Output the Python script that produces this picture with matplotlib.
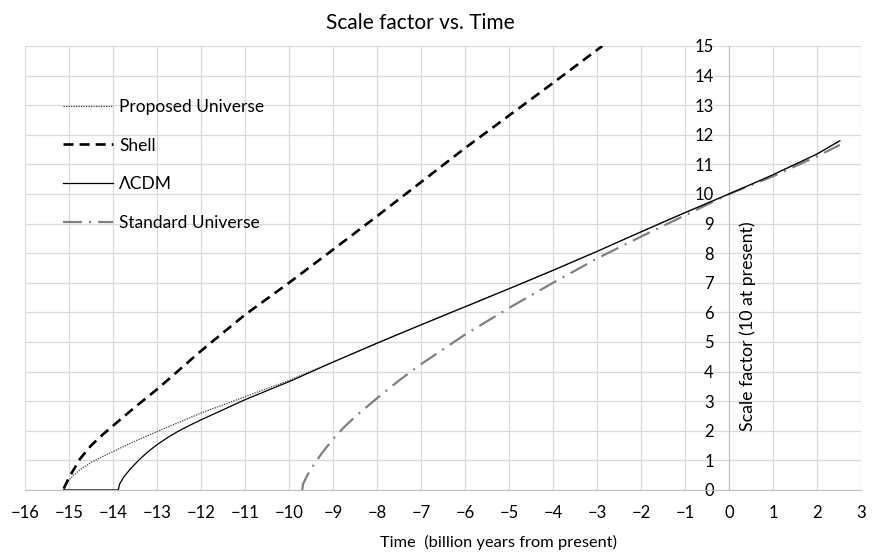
import matplotlib
matplotlib.use("Agg")
import matplotlib.pyplot as plt

plt.rcParams["font.family"] = ["Lato", "DejaVu Sans"]

# time in billion years from present, scale factor (10 at present)
t_proposed = [-15.12, -15.08, -14.9, -14.75, -14.5, -14.25, -14.0, -13.5, -13.0, -12.0,
              -11.0, -10.0, -9.0, -8.0, -7.0, -6.0, -5.0, -4.0, -3.0, -2.0, -1.0,
              0.0, 1.0, 2.0, 2.52]
a_proposed = [0.0, 0.2, 0.5, 0.68, 0.93, 1.12, 1.3, 1.65, 1.97, 2.6,
              3.15, 3.7, 4.33, 4.96, 5.58, 6.19, 6.8, 7.42, 8.06, 8.72, 9.37,
              10.0, 10.65, 11.35, 11.8]

t_shell = [-15.12, -15.0, -14.75, -14.5, -14.25, -14.0, -13.5, -13.0, -12.0, -11.0,
           -10.0, -9.0, -8.0, -7.0, -6.0, -5.0, -4.0, -2.88]
a_shell = [0.05, 0.42, 1.05, 1.5, 1.85, 2.17, 2.8, 3.4, 4.7, 5.92,
           7.0, 8.12, 9.25, 10.4, 11.55, 12.65, 13.75, 15.0]

t_lcdm = [-15.12, -13.88, -13.85, -13.75, -13.6, -13.4, -13.2, -13.0, -12.75, -12.5,
          -12.25, -12.0, -11.0, -10.0, -9.0, -8.0, -7.0, -6.0, -5.0, -4.0, -3.0,
          -2.0, -1.0, 0.0, 1.0, 2.0, 2.52]
a_lcdm = [0.0, 0.0, 0.2, 0.45, 0.72, 1.03, 1.3, 1.53, 1.78, 2.0,
          2.19, 2.37, 3.05, 3.66, 4.32, 4.96, 5.58, 6.19, 6.8, 7.42, 8.06,
          8.72, 9.37, 10.0, 10.65, 11.35, 11.8]

t_standard = [-9.7, -9.68, -9.6, -9.5, -9.25, -9.0, -8.75, -8.5, -8.0, -7.5, -7.0,
              -6.5, -6.0, -5.0, -4.0, -3.0, -2.0, -1.0, 0.0, 1.0, 2.0, 2.52]
a_standard = [0.0, 0.2, 0.45, 0.72, 1.25, 1.72, 2.12, 2.47, 3.1, 3.7, 4.25,
              4.75, 5.25, 6.15, 7.0, 7.82, 8.56, 9.28, 10.0, 10.6, 11.27, 11.66]

x_ticks = list(range(-16, 4))
y_ticks = list(range(0, 16))

fig = plt.figure(figsize=(8.74, 5.56), dpi=100)
ax = fig.add_axes([25 / 874, 1 - 490 / 556, 836 / 874, 444 / 556])

ax.plot(t_proposed, a_proposed, color="#404040", lw=0.9, linestyle=(0, (1, 1)),
        label="Proposed Universe", zorder=3)
ax.plot(t_shell, a_shell, color="black", lw=1.9, linestyle=(0, (3.8, 2.3)),
        label="Shell", zorder=3)
ax.plot(t_lcdm, a_lcdm, color="black", lw=0.9, label="\u039bCDM", zorder=4)
ax.plot(t_standard, a_standard, color="#808080", lw=1.6,
        linestyle=(0, (8.5, 3.2, 0.9, 3.2)), label="Standard Universe", zorder=3)

ax.set_xlim(-16, 3)
ax.set_ylim(0, 15)
ax.set_xticks(x_ticks)
ax.set_yticks(y_ticks)
ax.grid(True, color="#D9D9D9", lw=0.9)
ax.set_axisbelow(True)

for s in ["top", "right"]:
    ax.spines[s].set_visible(False)
ax.spines["left"].set_position(("data", 0))
ax.spines["left"].set_color("#BFBFBF")
ax.spines["bottom"].set_color("#BFBFBF")
ax.tick_params(axis="both", length=0, labelsize=12, colors="black")
ax.tick_params(axis="x", pad=11)
ax.tick_params(axis="y", pad=11)

ax.text(0.42, 5.55, "Scale factor (10 at present)", rotation=90,
        ha="center", va="center", fontsize=12.8)

fig.text(420 / 874, 1 - 23 / 556, "Scale factor vs. Time", ha="center",
         va="center", fontsize=15)
fig.text(498 / 874, 1 - 542 / 556, "Time  (billion years from present)",
         ha="center", va="center", fontsize=11.8)

ax.legend(loc="upper left", bbox_to_anchor=((63 - 25) / 836, (490 - 99) / 444),
          frameon=False, fontsize=12.5, handlelength=2.9, handletextpad=0.35,
          labelspacing=1.3, borderpad=0, borderaxespad=0)

fig.savefig("out.png", dpi=100)
